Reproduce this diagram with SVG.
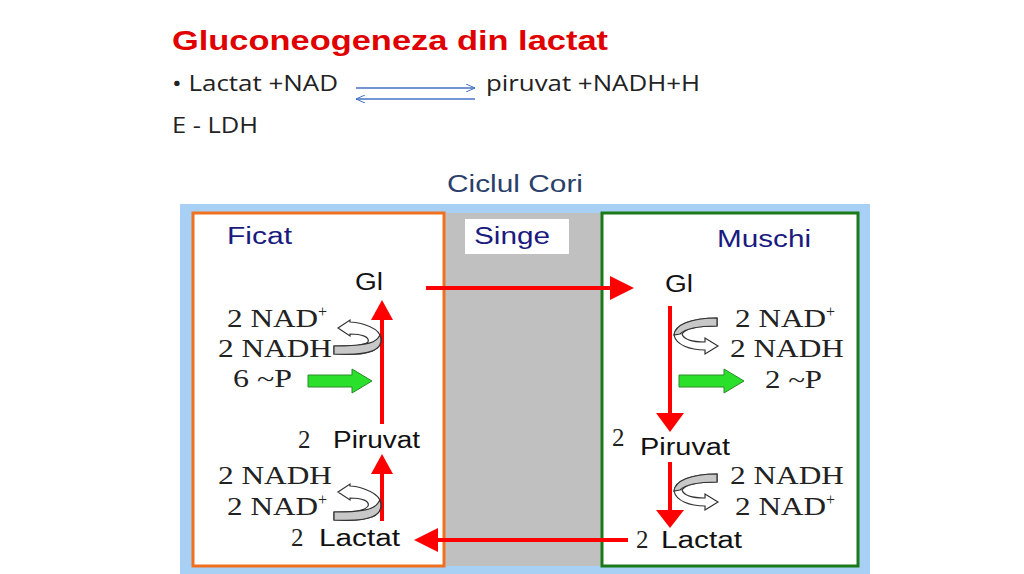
<svg xmlns="http://www.w3.org/2000/svg" width="1024" height="574" viewBox="0 0 1024 574">
<style>
.s{font-family:"Liberation Sans",Arial,sans-serif}
.t{font-family:"Liberation Serif","Times New Roman",serif;font-size:25px;fill:#222}
.h{font-family:"Liberation Sans",Arial,sans-serif;font-size:23px;fill:#111}
.b{font-family:"Open Sans","Liberation Sans",sans-serif;font-size:22px;fill:#222}
.red{stroke:#f00;stroke-width:4;fill:none}
.ah{fill:#f00}
.cg{fill:#c8c8c8;stroke:#333;stroke-width:1.2}
.cw{fill:#fff;stroke:#333;stroke-width:1.2}
.gr{fill:#2be02b;stroke:#2a8a2a;stroke-width:1}
</style>
<defs>
<marker id="bl" markerWidth="10" markerHeight="8" refX="9" refY="4" orient="auto" markerUnits="userSpaceOnUse"><path d="M0,0 L9,4 L0,8" fill="none" stroke="#4472c4" stroke-width="1"/></marker>
</defs>
<rect width="1024" height="574" fill="#fff"/>
<g id="header">
<text x="172" y="50" textLength="436" lengthAdjust="spacingAndGlyphs" style="font-family:'Liberation Sans',Arial,sans-serif;font-weight:bold;font-size:27px;fill:#e00000">Gluconeogeneza din lactat</text>
<text x="172" y="91" class="b" textLength="166" lengthAdjust="spacingAndGlyphs">• Lactat +NAD</text>
<text x="486" y="91" class="b" textLength="214" lengthAdjust="spacingAndGlyphs">piruvat +NADH+H</text>
<text x="172" y="133" class="b" textLength="86" lengthAdjust="spacingAndGlyphs">E - LDH</text>
<line x1="356" y1="88" x2="475" y2="88" stroke="#4472c4" stroke-width="1.3" marker-end="url(#bl)"/>
<line x1="475" y1="99" x2="356" y2="99" stroke="#4472c4" stroke-width="1.3" marker-end="url(#bl)"/>
<text x="447" y="192" class="s" textLength="136" lengthAdjust="spacingAndGlyphs" style="font-size:23px;fill:#2b3f6b">Ciclul Cori</text>
</g>
<g id="panels">
<rect x="180" y="204" width="690" height="370" fill="#a8d0f5"/>
<rect x="444" y="213" width="158" height="353" fill="#c0c0c0"/>
<rect x="193" y="213" width="251" height="353" fill="#fff" stroke="#f07020" stroke-width="3"/>
<rect x="602" y="213" width="256" height="353" fill="#fff" stroke="#1a7a1a" stroke-width="3"/>
<rect x="465" y="219" width="104" height="35" fill="#fff"/>
<text x="227" y="244" class="s" textLength="65" lengthAdjust="spacingAndGlyphs" style="font-size:23px;fill:#1a1a80">Ficat</text>
<text x="474" y="244" class="s" textLength="76" lengthAdjust="spacingAndGlyphs" style="font-size:23px;fill:#1a1a80">Singe</text>
<text x="717" y="247" class="s" textLength="94" lengthAdjust="spacingAndGlyphs" style="font-size:23px;fill:#1a1a80">Muschi</text>
</g>
<g id="ficat">
<text x="355" y="290" class="h" textLength="28" lengthAdjust="spacingAndGlyphs">Gl</text>
<text x="227" y="327" class="t"><tspan textLength="91" lengthAdjust="spacingAndGlyphs">2 NAD</tspan><tspan dy="-10" font-size="16">+</tspan></text>
<text x="218" y="357" class="t" textLength="114" lengthAdjust="spacingAndGlyphs">2 NADH</text>
<text x="233" y="387" class="t" textLength="59" lengthAdjust="spacingAndGlyphs">6 ~P</text>
<text x="298" y="448" class="t">2</text><text x="333" y="448" class="h" textLength="87" lengthAdjust="spacingAndGlyphs">Piruvat</text>
<text x="218" y="484" class="t" textLength="114" lengthAdjust="spacingAndGlyphs">2 NADH</text>
<text x="227" y="515" class="t"><tspan textLength="91" lengthAdjust="spacingAndGlyphs">2 NAD</tspan><tspan dy="-10" font-size="16">+</tspan></text>
<text x="291" y="546" class="t">2</text><text x="319" y="546" class="h" textLength="81" lengthAdjust="spacingAndGlyphs">Lactat</text>
<line x1="382" y1="424" x2="382" y2="318" class="red"/><polygon points="371,320 393,320 382,300" class="ah"/>
<line x1="382" y1="521" x2="382" y2="472" class="red"/><polygon points="371,474 393,474 382,454" class="ah"/>
<path d="M334,354 C370,356 385,350 380,335 C375,325 355,322 350,322 L350,320 L338,328 L350,336 L350,334 C362,334 370,337 368,342 C364,346 352,346 334,346 Z" class="cw"/>
<path d="M334,354 C370,356 385,350 380,335 L378,338 C374,344 360,346 334,346 Z" class="cg"/>
<path d="M334,520 C370,522 385,516 380,500 C375,490 355,486 350,486 L350,484 L338,492 L350,500 L350,498 C362,498 370,501 368,506 C364,512 352,512 334,512 Z" class="cw"/>
<path d="M334,520 C370,522 385,516 380,500 L378,503 C374,510 360,512 334,512 Z" class="cg"/>
<polygon points="308,375 352,375 352,369 372,381 352,393 352,387 308,387" class="gr"/>
</g>
<g id="muschi">
<text x="665" y="292" class="h" textLength="28" lengthAdjust="spacingAndGlyphs">Gl</text>
<text x="735" y="327" class="t"><tspan textLength="91" lengthAdjust="spacingAndGlyphs">2 NAD</tspan><tspan dy="-10" font-size="16">+</tspan></text>
<text x="730" y="357" class="t" textLength="114" lengthAdjust="spacingAndGlyphs">2 NADH</text>
<text x="765" y="388" class="t" textLength="57" lengthAdjust="spacingAndGlyphs">2 ~P</text>
<text x="612" y="446" class="t" font-size="21">2</text><text x="640" y="455" class="h" textLength="90" lengthAdjust="spacingAndGlyphs">Piruvat</text>
<text x="730" y="484" class="t" textLength="114" lengthAdjust="spacingAndGlyphs">2 NADH</text>
<text x="735" y="515" class="t"><tspan textLength="91" lengthAdjust="spacingAndGlyphs">2 NAD</tspan><tspan dy="-10" font-size="16">+</tspan></text>
<text x="636" y="548" class="t">2</text><text x="661" y="548" class="h" textLength="81" lengthAdjust="spacingAndGlyphs">Lactat</text>
<line x1="670" y1="306" x2="670" y2="415" class="red"/><polygon points="656,413 684,413 670,432" class="ah"/>
<line x1="670" y1="462" x2="670" y2="512" class="red"/><polygon points="656,510 684,510 670,528" class="ah"/>
<path d="M717,318 C690,318 675,325 674,335 C676,345 690,350 705,350 L705,354 L718,346 L705,338 L705,342 C695,342 684,340 682,334 C686,328 700,326 717,326 Z" class="cw"/>
<path d="M717,318 C690,318 675,325 674,335 L680,334 C686,328 700,326 717,326 Z" class="cg"/>
<path d="M717,474 C690,474 675,481 674,491 C676,501 690,506 705,506 L705,510 L718,502 L705,494 L705,498 C695,498 684,496 682,490 C686,484 700,482 717,482 Z" class="cw"/>
<path d="M717,474 C690,474 675,481 674,491 L680,490 C686,484 700,482 717,482 Z" class="cg"/>
<polygon points="679,375 724,375 724,369 744,381 724,393 724,387 679,387" class="gr"/>
</g>
<g id="connectors">
<line x1="426" y1="288" x2="612" y2="288" class="red"/><polygon points="610,276 634,288 610,300" class="ah"/>
<line x1="628" y1="540" x2="436" y2="540" class="red"/><polygon points="438,528 414,540 438,552" class="ah"/>
</g>
</svg>
